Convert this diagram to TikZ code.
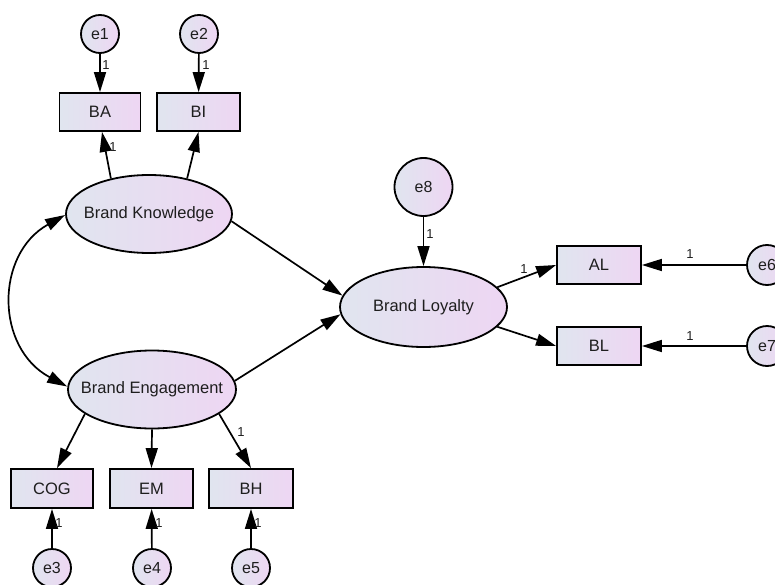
\documentclass[tikz,border=0pt]{standalone}
\usepackage{fontspec}
\setmainfont{Liberation Sans}
\usetikzlibrary{shapes.geometric,arrows.meta}
\definecolor{fillL}{RGB}{224,229,239}
\definecolor{fillR}{RGB}{238,214,243}
\definecolor{txt}{RGB}{30,30,30}
\begin{document}
\begin{tikzpicture}[x=1pt,y=-1pt,
  base/.style={draw=black, line width=1.8pt, left color=fillL, right color=fillR, text=txt, inner sep=0pt, font=\fontsize{16.5}{18}\selectfont},
  obs/.style={base, rectangle, minimum width=82pt, minimum height=38pt},
  lat/.style={base, ellipse, minimum width=166pt, minimum height=78pt},
  latlabel/.style={text=txt, inner sep=0pt, font=\fontsize{16.5}{18}\selectfont},
  err/.style={base, circle, minimum size=38pt, font=\fontsize{16}{18}\selectfont},
  reg/.style={line width=1.7pt, -{Triangle[length=20pt,width=12pt]}},
  cov/.style={line width=1.7pt, {Triangle[length=20pt,width=12pt]}-{Triangle[length=20pt,width=12pt]}},
  one/.style={font=\fontsize{13}{14}\selectfont, text=txt, inner sep=0pt}
]
\useasboundingbox (0,0) rectangle (775,585);
\path[clip] (0,0) rectangle (775,585);

% latent variables
\node[lat, label={[latlabel]center:Brand Knowledge}] (BK) at (149,214) {};
\node[lat, minimum width=168pt, label={[latlabel]center:Brand Engagement}] (BE) at (152,389.5) {};
\node[lat, minimum width=167pt, minimum height=80pt, label={[latlabel]center:Brand Loyalty}] (BLy) at (423.5,307) {};

% observed
\node[obs, minimum width=81pt] (BA) at (100,112) {BA};
\node[obs, minimum width=83pt] (BI) at (198.5,112) {BI};
\node[obs, minimum height=39pt] (COG) at (52,488.5) {COG};
\node[obs, minimum width=83pt, minimum height=39pt] (EM) at (151.5,488.5) {EM};
\node[obs, minimum width=84pt, minimum height=39pt] (BH) at (251,488.5) {BH};
\node[obs, minimum width=84pt] (AL) at (599,265) {AL};
\node[obs, minimum width=84pt] (BLb) at (599,346) {BL};

% errors
\node[err] (e1) at (100,34) {e1};
\node[err] (e2) at (199,34) {e2};
\node[err] (e3) at (52,568) {e3};
\node[err] (e4) at (152,568) {e4};
\node[err] (e5) at (251,568) {e5};
\node[err, minimum size=40pt] (e6) at (767,265) {e6};
\node[err, minimum size=40pt] (e7) at (767,346) {e7};
\node[err, minimum size=58pt] (e8) at (423.5,187) {e8};

% error paths
\draw[reg] (e1) -- (BA);
\draw[reg] (e2) -- (BI);
\draw[reg] (e3) -- (COG);
\draw[reg] (e4) -- (EM);
\draw[reg] (e5) -- (BH);
\draw[reg] (e6) -- (AL);
\draw[reg] (e7) -- (BLb);
\draw[reg] (e8) -- (BLy);

% loadings
\draw[reg] (BK.137) -- ([xshift=2pt]BA.south);
\draw[reg] (BK.43) -- (BI.south);
\draw[reg] (BE.-160) -- ([xshift=5pt]COG.north);
\draw[reg] (BE.south) -- (EM.north);
\draw[reg] (BE.-20) -- (BH.north);
\draw[reg] (BLy.15) -- (AL.west);
\draw[reg] (BLy.-15) -- (BLb.west);

% structural paths
\draw[reg] (BK.-5) -- (BLy.172);
\draw[reg] (BE.6) -- (BLy.185);

% covariance
\draw[cov] ([yshift=-1pt]BK.west) .. controls (-5,254) and (-5,348) .. ([yshift=3pt]BE.west);

% labels
\node[one] (l1) at (106,65) {1};
\node[one] (l2) at (206,65) {1};
\node[one] (l3) at (113,147) {1};
\node[one] (l4) at (241,432) {1};
\node[one] (l5) at (59,523) {1};
\node[one] (l6) at (159,523) {1};
\node[one] (l7) at (258,523) {1};
\node[one] (l8) at (430,234) {1};
\node[one] (l9) at (524,269) {1};
\node[one] (l10) at (690,254) {1};
\node[one] (l11) at (690,336) {1};
\end{tikzpicture}
\end{document}
